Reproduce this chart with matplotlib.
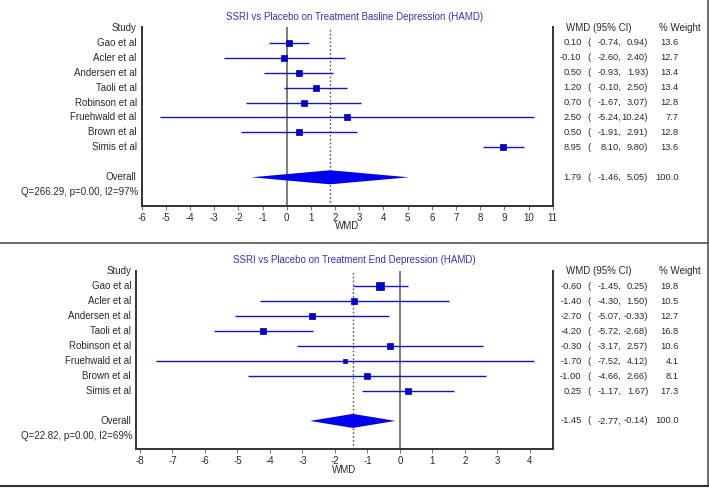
import matplotlib
matplotlib.use("Agg")
import matplotlib.pyplot as plt
import matplotlib.transforms as mtransforms
import numpy as np

plt.rcParams['font.family'] = ['Liberation Sans', 'DejaVu Sans']

studies = ['Gao et al', 'Acler et al', 'Andersen et al', 'Taoli et al',
           'Robinson et al', 'Fruehwald et al', 'Brown et al', 'Simis et al']

# baseline depression (HAMD)
base_wmd = [0.10, -0.10, 0.50, 1.20, 0.70, 2.50, 0.50, 8.95]
base_lo = [-0.74, -2.60, -0.93, -0.10, -1.67, -5.24, -1.91, 8.10]
base_hi = [0.94, 2.40, 1.93, 2.50, 3.07, 10.24, 2.91, 9.80]
base_w = [13.6, 12.7, 13.4, 13.4, 12.8, 7.7, 12.8, 13.6]
base_overall = [1.79, -1.46, 5.05]
base_q = 'Q=266.29, p=0.00, I2=97%'

# end depression (HAMD)
end_wmd = [-0.60, -1.40, -2.70, -4.20, -0.30, -1.70, -1.00, 0.25]
end_lo = [-1.45, -4.30, -5.07, -5.72, -3.17, -7.52, -4.66, -1.17]
end_hi = [0.25, 1.50, -0.33, -2.68, 2.57, 4.12, 2.66, 1.67]
end_w = [19.8, 10.5, 12.7, 16.8, 10.6, 4.1, 8.1, 17.3]
end_overall = [-1.45, -2.77, -0.14]
end_q = 'Q=22.82, p=0.00, I2=69%'

W, H = 709, 488
fig = plt.figure(figsize=(W / 100, H / 100), dpi=100)
fig.patch.set_facecolor('white')

blue = '#1414c8'
txt = '#2a2a2a'
fs = 7
tfs = 6.7  # table numbers


def fmt(v):
    return '%.2f' % v


def forest(rect, xlim, xticks, title, title_y, wmd, lo, hi, w, overall, qtext):
    ax = fig.add_axes(rect)
    ax.set_xlim(*xlim)
    ax.set_ylim(11.9, -0.05)
    ax.set_xticks(xticks)
    ax.set_xticklabels([str(t) for t in xticks])
    ax.set_yticks([])
    ax.tick_params(axis='x', direction='out', length=3, width=0.8, color='#777777',
                   labelsize=fs, labelcolor=txt, pad=2)
    ax.spines['top'].set_visible(False)
    for s in ['left', 'bottom', 'right']:
        ax.spines[s].set_color('#333333')
        ax.spines[s].set_linewidth(1.4)
    ax.set_xlabel('WMD', fontsize=fs, color=txt, labelpad=-1)

    ax.axvline(0, color='#666666', lw=1.2, zorder=1)
    ax.axvline(overall[0], color='#555555', lw=1.0, ls=(0, (1.2, 1.6)), zorder=1)

    rows = np.arange(1, len(wmd) + 1)
    for r, m, a, b, wt in zip(rows, wmd, lo, hi, w):
        ax.plot([a, b], [r, r], color=blue, lw=1.0, solid_capstyle='butt', zorder=2)
        side = 3 + 0.9 * np.sqrt(wt)
        ax.plot([m], [r], marker='s', ms=side * 0.72, mfc='#0000d0', mec='#000080',
                mew=0.5, zorder=3)

    orow = len(wmd) + 2
    est, olo, ohi = overall
    ax.fill([olo, est, ohi, est], [orow, orow - 0.47, orow, orow + 0.47],
            color='#0000f0', lw=0, zorder=3)

    # left labels
    lab_tr = mtransforms.offset_copy(ax.get_yaxis_transform(), fig=fig, x=-5, y=0,
                                     units='dots')
    ax.text(0, 0, 'Study', transform=lab_tr, ha='right', va='center', fontsize=fs,
            color=txt)
    for r, s in zip(rows, studies):
        ax.text(0, r, s, transform=lab_tr, ha='right', va='center', fontsize=fs,
                color=txt)
    ax.text(0, orow, 'Overall', transform=lab_tr, ha='right', va='center',
            fontsize=fs, color=txt)
    qtr = mtransforms.blended_transform_factory(fig.transFigure, ax.transData)
    ax.text(21 / W, orow + 1, qtext, transform=qtr, ha='left', va='center',
            fontsize=fs, color=txt)

    # right table
    ax.text(566 / W, 0, 'WMD (95% CI)', transform=qtr, ha='left', va='center',
            fontsize=fs, color=txt)
    ax.text(659 / W, 0, '% Weight', transform=qtr, ha='left', va='center',
            fontsize=fs, color=txt)
    allrows = list(rows) + [orow]
    allm = list(wmd) + [est]
    alllo = list(lo) + [olo]
    allhi = list(hi) + [ohi]
    allw = ['%.1f' % v for v in w] + ['100.0']
    for r, m, a, b, wt in zip(allrows, allm, alllo, allhi, allw):
        kw = dict(transform=qtr, va='center', fontsize=tfs, color=txt, clip_on=False)
        ax.text(581.5 / W, r, fmt(m), ha='right', **kw)
        ax.text(587.5 / W, r, '(', ha='left', **kw)
        ax.text(621.5 / W, r, fmt(a) + ',', ha='right', **kw)
        ax.text(648 / W, r, fmt(b) + ')', ha='right', **kw)
        ax.text(678.5 / W, r, wt, ha='right', **kw)

    fig.text(354.5 / W, 1 - title_y / H, title, ha='center', va='center',
             fontsize=fs, color='#3535b5')
    return ax


forest([141.7 / W, 1 - 205.7 / H, 411 / W, 178.7 / H], (-6, 11), list(range(-6, 12)),
       'SSRI vs Placebo on Treatment Basline Depression (HAMD)', 16.7,
       base_wmd, base_lo, base_hi, base_w, base_overall, base_q)

forest([136 / W, 1 - 449.3 / H, 416.7 / W, 178.6 / H], (-8.12, 4.70), list(range(-8, 5)),
       'SSRI vs Placebo on Treatment End Depression (HAMD)', 260,
       end_wmd, end_lo, end_hi, end_w, end_overall, end_q)

# panel borders
fig.add_artist(plt.Line2D([0, 1], [1 - 243.3 / H] * 2, transform=fig.transFigure,
                          color='#555555', lw=1.2))
fig.add_artist(plt.Line2D([707.5 / W] * 2, [1 - 486 / H, 1], transform=fig.transFigure,
                          color='#555555', lw=1.2))
fig.add_artist(plt.Line2D([0, 707.5 / W], [1 - 486 / H] * 2, transform=fig.transFigure,
                          color='#333333', lw=1.5))

fig.savefig('out.png', dpi=100, facecolor='white')
